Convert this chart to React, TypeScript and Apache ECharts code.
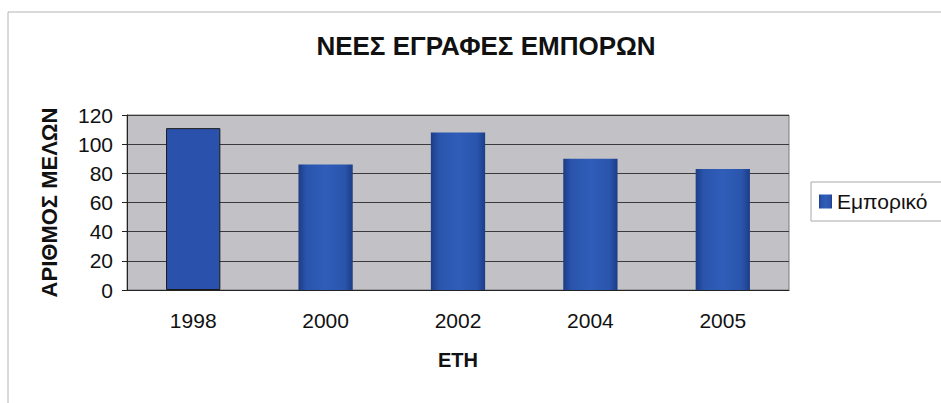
import React, { useEffect, useRef } from "react";
import * as echarts from "echarts";

const categories = ["1998", "2000", "2002", "2004", "2005"];
const values = [111, 86, 108, 90, 83];
const seriesName = "Εμπορικό";
const titleText = "ΝΕΕΣ ΕΓΡΑΦΕΣ ΕΜΠΟΡΩΝ";
const yAxisName = "ΑΡΙΘΜΟΣ ΜΕΛΩΝ";
const xAxisName = "ΕΤΗ";

const FONT = "'Liberation Sans', Arial, sans-serif";

export default function App() {
  const ref = useRef<HTMLDivElement>(null);
  useEffect(() => {
    if (!ref.current) return;
    const chart = echarts.init(ref.current, undefined, { renderer: "svg" });
    const gradient = new echarts.graphic.LinearGradient(0, 0, 1, 0, [
      { offset: 0, color: "#1c3d86" },
      { offset: 0.15, color: "#2a55ad" },
      { offset: 0.5, color: "#2f5db8" },
      { offset: 0.85, color: "#2a55ad" },
      { offset: 1, color: "#1c3d86" },
    ]);
    chart.setOption({
      animation: false,
      backgroundColor: "#ffffff",
      textStyle: { fontFamily: FONT },
      graphic: [
        {
          type: "rect",
          shape: { x: 8, y: 12, width: 940, height: 400 },
          style: { fill: "none", stroke: "#b4b4b4", lineWidth: 1 },
          silent: true,
        },
      ],
      title: {
        text: titleText,
        left: 481,
        top: 28,
        textAlign: "center",
        textStyle: { fontFamily: FONT, fontSize: 26, fontWeight: "bold", color: "#111" },
      },
      legend: {
        left: 811,
        top: 182,
        orient: "vertical",
        data: [seriesName],
        icon: "rect",
        itemWidth: 13,
        itemHeight: 14,
        padding: [9, 30, 9, 8],
        borderColor: "#a8a8a8",
        borderWidth: 1,
        backgroundColor: "#ffffff",
        textStyle: { fontFamily: FONT, fontSize: 21, color: "#111" },
      },
      grid: {
        left: 127,
        top: 115,
        width: 662,
        height: 175,
        show: true,
        backgroundColor: "#c2c2c6",
        borderColor: "#7a7a7a",
        borderWidth: 1,
        containLabel: false,
      },
      xAxis: {
        type: "category",
        data: categories,
        name: xAxisName,
        nameLocation: "middle",
        nameGap: 60,
        nameTextStyle: { fontFamily: FONT, fontSize: 20, fontWeight: "bold", color: "#111" },
        axisLine: { show: true, lineStyle: { color: "#222", width: 1 } },
        axisTick: { show: false },
        axisLabel: { margin: 20, fontFamily: FONT, fontSize: 21, color: "#111" },
      },
      yAxis: {
        type: "value",
        min: 0,
        max: 120,
        interval: 20,
        name: yAxisName,
        nameLocation: "middle",
        nameGap: 67,
        nameRotate: 90,
        nameTextStyle: { fontFamily: FONT, fontSize: 22, fontWeight: "bold", color: "#111" },
        axisLine: { show: true, lineStyle: { color: "#222", width: 1 } },
        axisTick: { show: true, length: 5, lineStyle: { color: "#222" } },
        axisLabel: { margin: 14, fontFamily: FONT, fontSize: 21, color: "#111" },
        splitLine: { show: true, lineStyle: { color: "#3a3a3a", width: 1 } },
      },
      series: [
        {
          name: seriesName,
          type: "bar",
          barWidth: "41%",
          data: values.map((v, i) =>
            i === 0
              ? { value: v, itemStyle: { color: "#2a52ac", borderColor: "#1a1a1a", borderWidth: 1 } }
              : { value: v }
          ),
          itemStyle: { color: gradient },
        },
      ],
    });
    return () => chart.dispose();
  }, []);
  return (
    <div
      ref={ref}
      style={{ position: "fixed", left: 0, top: 0, width: 941, height: 403 }}
    />
  );
}
